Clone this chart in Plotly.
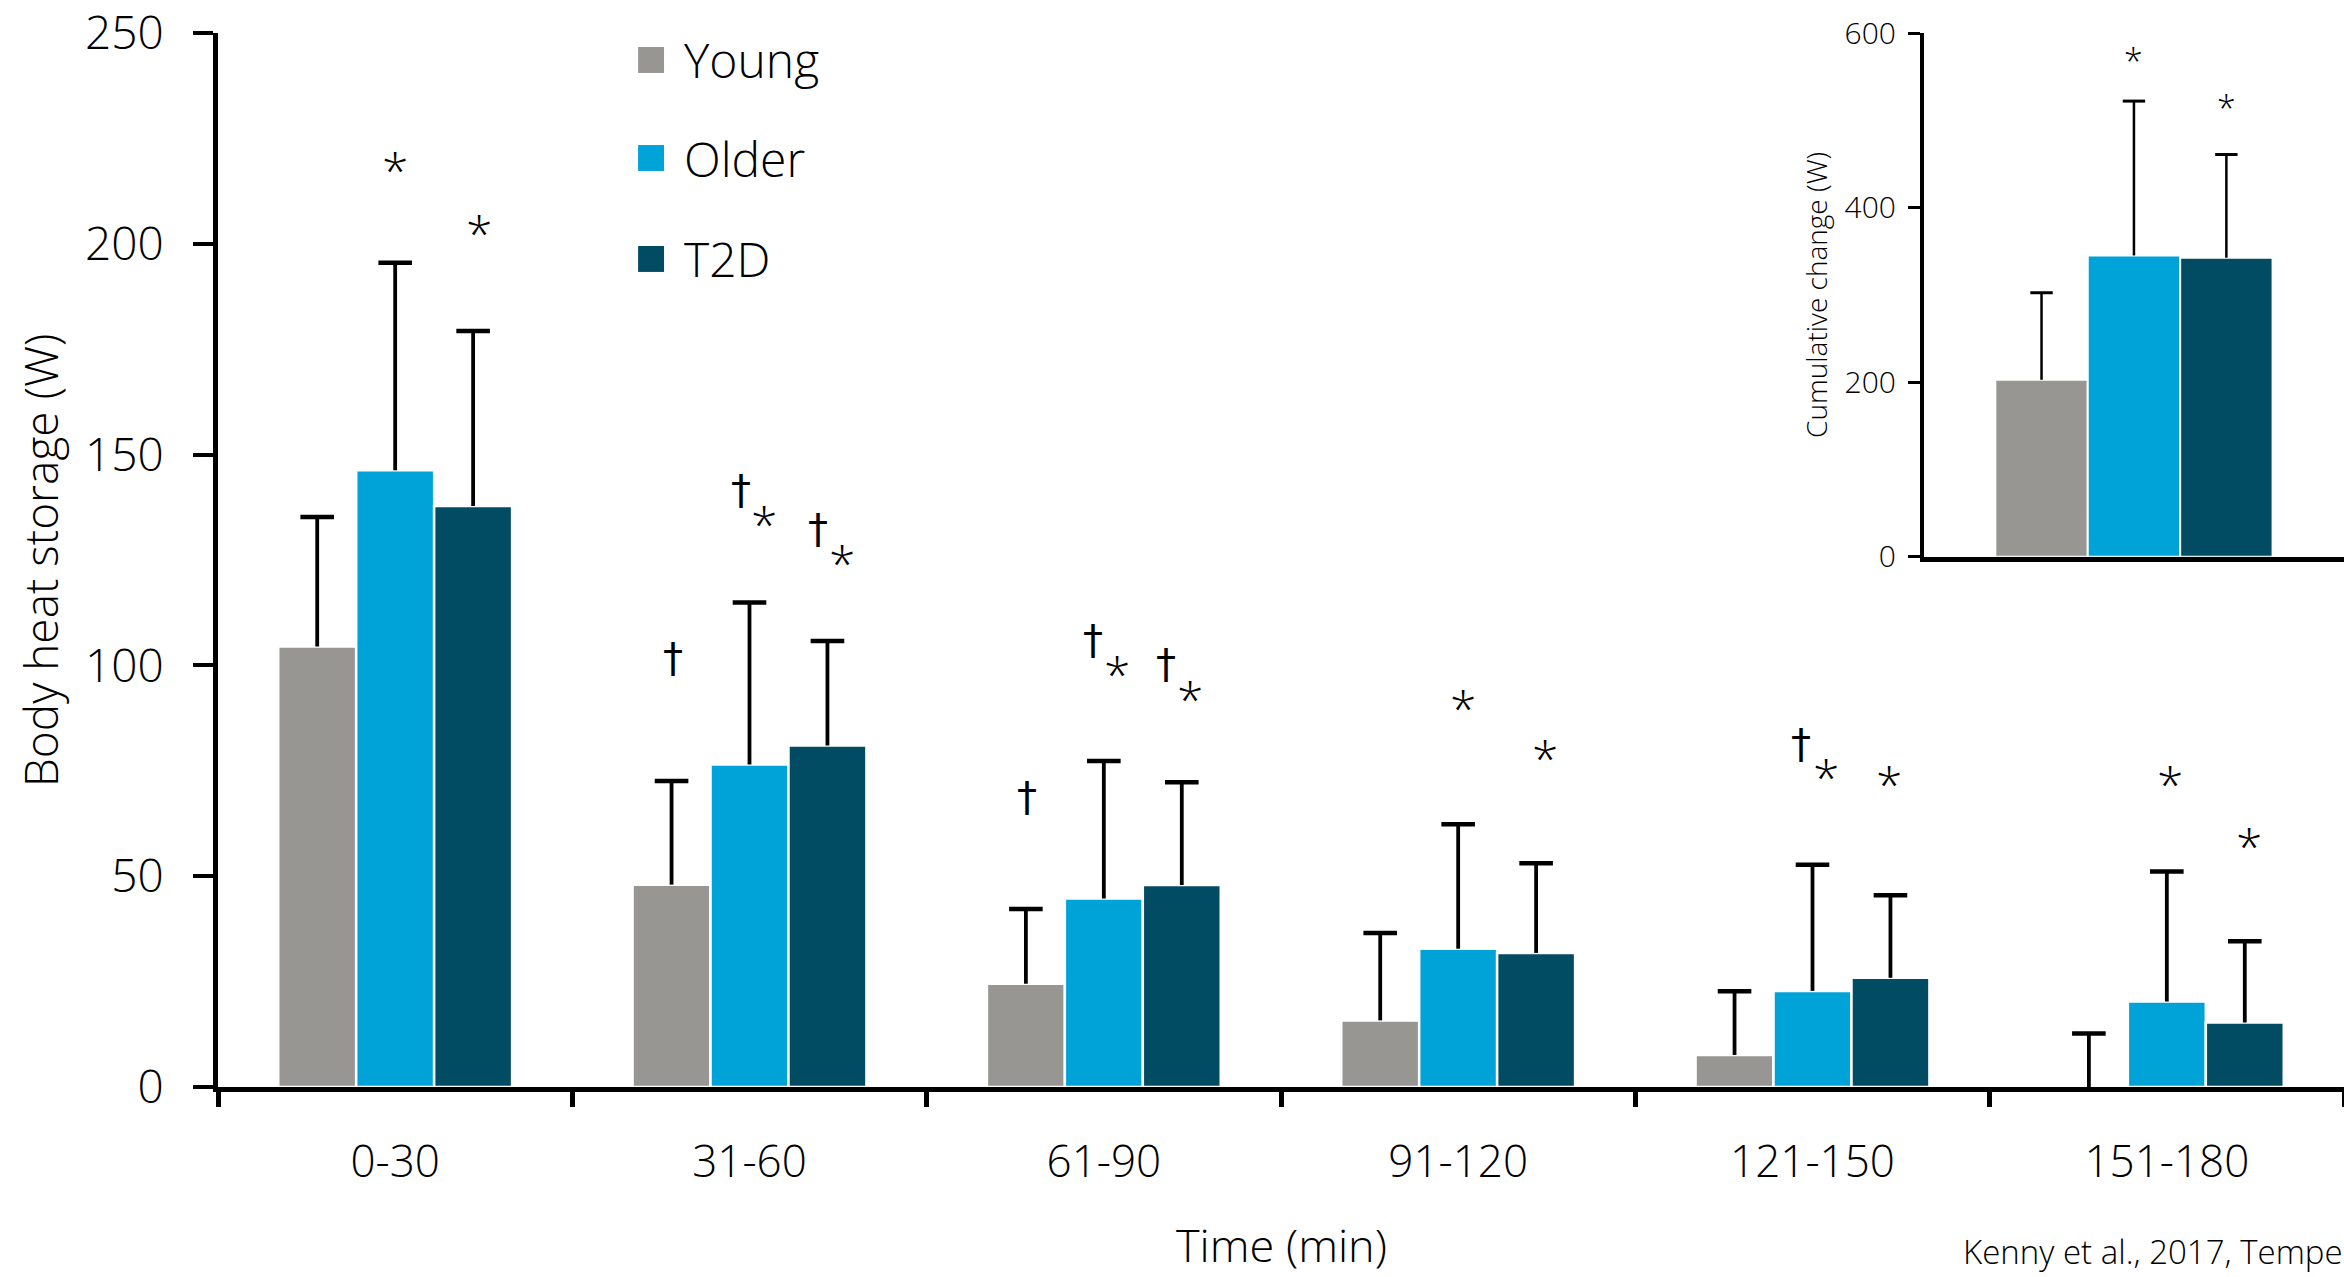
import plotly.graph_objects as go

# ---------------- data ----------------
categories = ["0-30", "31-60", "61-90", "91-120", "121-150", "151-180"]
groups = ["Young", "Older", "T2D"]
colors = ["#979692", "#00A3D8", "#024C63"]

young = [104.5, 48.0, 24.5, 15.8, 7.6, 0.0]
young_sd = [30.7, 24.6, 17.7, 20.7, 15.1, 12.7]
older = [146.3, 76.5, 44.7, 32.8, 22.8, 20.3]
older_sd = [49.2, 38.4, 32.6, 29.5, 29.9, 30.8]
t2d = [137.8, 81.0, 47.9, 31.8, 25.9, 15.3]
t2d_sd = [41.5, 24.8, 24.4, 21.3, 19.6, 19.3]

inset_category = ["Cumulative"]
inset_vals = [202.8, 345.2, 342.6]
inset_sd = [99.7, 176.8, 118.2]

# significance marks (x in category-index units, y in data units)
marks_x = [0.0, 0.237, 0.785, 0.975, 1.042, 1.194, 1.261, 1.784, 1.969, 2.037,
           2.176, 2.243, 3.015, 3.246, 3.967, 4.038, 4.217, 5.009, 5.233]
marks_y = [220.9, 206.0, 101.8, 141.5, 136.9, 132.3, 127.7, 68.8, 106.0, 101.4,
           100.4, 95.4, 93.4, 81.5, 81.4, 77.0, 75.2, 75.4, 60.7]
marks_sym = ["*", "*", "†", "†", "*", "†", "*", "†", "†", "*",
             "†", "*", "*", "*", "†", "*", "*", "*", "*"]

inset_marks_x = [0.0, 0.22]
inset_marks_y = [579.0, 525.6]

FONT = "Open Sans"
W = 300
series = [young, older, t2d]
series_sd = [young_sd, older_sd, t2d_sd]


def f(size, family=FONT, weight=W):
    return dict(family=family, size=size, color="black", weight=weight)


fig = go.Figure()
# bars
for name, col, vals in zip(groups, colors, series):
    fig.add_trace(go.Bar(
        x=categories, y=vals, name=name, showlegend=False, offsetgroup=name,
        marker=dict(color=col, line=dict(color="white", width=2.5)),
        xaxis="x", yaxis="y",
    ))
for i, (name, col) in enumerate(zip(groups, colors)):
    fig.add_trace(go.Bar(
        x=inset_category, y=[inset_vals[i]], name=name, showlegend=False, offsetgroup=name,
        marker=dict(color=col, line=dict(color="white", width=2)),
        xaxis="x2", yaxis="y2",
    ))

# upper-only error bars (stem + cap)
for name, vals, sd in zip(groups, series, series_sd):
    fig.add_trace(go.Scatter(
        x=categories, y=[v + s for v, s in zip(vals, sd)], mode="markers",
        offsetgroup=name, showlegend=False, cliponaxis=False, hoverinfo="skip",
        marker=dict(symbol="line-ew", size=24, color="black",
                    line=dict(color="black", width=4.5)),
        error_y=dict(type="data", symmetric=False, array=[0] * len(sd), arrayminus=sd,
                     color="black", thickness=3.8, width=0),
        xaxis="x", yaxis="y",
    ))
for i, name in enumerate(groups):
    fig.add_trace(go.Scatter(
        x=inset_category, y=[inset_vals[i] + inset_sd[i]], mode="markers",
        offsetgroup=name, showlegend=False, cliponaxis=False, hoverinfo="skip",
        marker=dict(symbol="line-ew", size=16, color="black",
                    line=dict(color="black", width=3)),
        error_y=dict(type="data", symmetric=False, array=[0], arrayminus=[inset_sd[i]],
                     color="black", thickness=2.5, width=0),
        xaxis="x2", yaxis="y2",
    ))

annotations = []
for x, y, s in zip(marks_x, marks_y, marks_sym):
    if s == "*":
        annotations.append(dict(x=x, y=y, xref="x", yref="y", text=s, showarrow=False,
                                font=f(48), xanchor="center", yanchor="middle", yshift=-14))
    else:
        annotations.append(dict(x=x, y=y, xref="x", yref="y", text=s, showarrow=False,
                                font=f(40, "DejaVu Sans", 400), xanchor="center",
                                yanchor="middle", yshift=0))
for x, y in zip(inset_marks_x, inset_marks_y):
    annotations.append(dict(x=x, y=y, xref="x2", yref="y2", text="*", showarrow=False,
                            font=f(34), xanchor="center", yanchor="middle", yshift=-10))

# axis titles and citation
annotations.append(dict(x=-0.0837, y=0.5, xref="paper", yref="paper",
                        text="Body heat storage (W)", textangle=-90, showarrow=False,
                        font=f(46), xanchor="center", yanchor="middle"))
annotations.append(dict(x=0.5, y=-0.1499, xref="paper", yref="paper",
                        text="Time (min)", showarrow=False,
                        font=f(45), xanchor="center", yanchor="middle"))
annotations.append(dict(x=0.7516, y=0.7514, xref="paper", yref="paper",
                        text="Cumulative change (W)", textangle=-90, showarrow=False,
                        font=f(28), xanchor="center", yanchor="middle"))
annotations.append(dict(x=0.8199, y=-0.1565, xref="paper", yref="paper",
                        text="Kenny et al., 2017, Tempe", showarrow=False,
                        font=f(33), xanchor="left", yanchor="middle"))

# legend (drawn as keys + labels)
shapes = []
legend_y = [0.9744, 0.8814, 0.7856]
for name, col, ly in zip(groups, colors, legend_y):
    shapes.append(dict(type="rect", xref="paper", yref="paper",
                       x0=0.1976, x1=0.2098, y0=ly - 0.0123, y1=ly + 0.0123,
                       fillcolor=col, line=dict(width=0)))
    annotations.append(dict(x=0.2183, y=ly, xref="paper", yref="paper", text=name,
                            showarrow=False, font=f(48),
                            xanchor="left", yanchor="middle"))

fig.update_layout(
    width=2344, height=1277,
    margin=dict(l=218, r=0, t=33, b=190, autoexpand=False),
    paper_bgcolor="white", plot_bgcolor="rgba(0,0,0,0)",
    barmode="group", bargap=0.34, bargroupgap=0.0,
    scattermode="group", scattergap=0.34,
    font=dict(family=FONT, color="black", weight=W),
    showlegend=False,
    xaxis=dict(type="category", categoryorder="array", categoryarray=categories,
               range=[-0.5, 5.5], tickson="boundaries", ticks="outside", ticklen=15,
               tickwidth=5, tickcolor="black", showline=True, linecolor="black",
               linewidth=5, showgrid=False, zeroline=False, automargin=False,
               tickfont=f(44), ticklabelstandoff=32, domain=[0, 1], anchor="y"),
    yaxis=dict(range=[0, 250], dtick=50, ticks="outside", ticklen=20, tickwidth=4,
               tickcolor="black", showline=True, linecolor="black", linewidth=5,
               showgrid=False, zeroline=False, ticklabeloverflow="allow", automargin=False,
               tickfont=f(46), ticklabelstandoff=20, domain=[0, 1], anchor="x"),
    xaxis2=dict(type="category", range=[-0.5, 0.5], domain=[0.8024, 1.0], anchor="y2",
                showticklabels=False, ticks="", showline=True, linecolor="black",
                linewidth=5, showgrid=False, zeroline=False, automargin=False),
    yaxis2=dict(range=[0, 600], dtick=200, domain=[0.503, 1.0], anchor="x2",
                ticks="outside", ticklen=12, tickwidth=3, tickcolor="black",
                showline=True, linecolor="black", linewidth=4, showgrid=False,
                zeroline=False, tickfont=f(30), ticklabelstandoff=6, automargin=False,
                ticklabeloverflow="allow"),
    annotations=annotations,
    shapes=shapes,
)

fig.write_html("out.html", config={"displayModeBar": False},
               post_script="document.body.style.margin='0';")
